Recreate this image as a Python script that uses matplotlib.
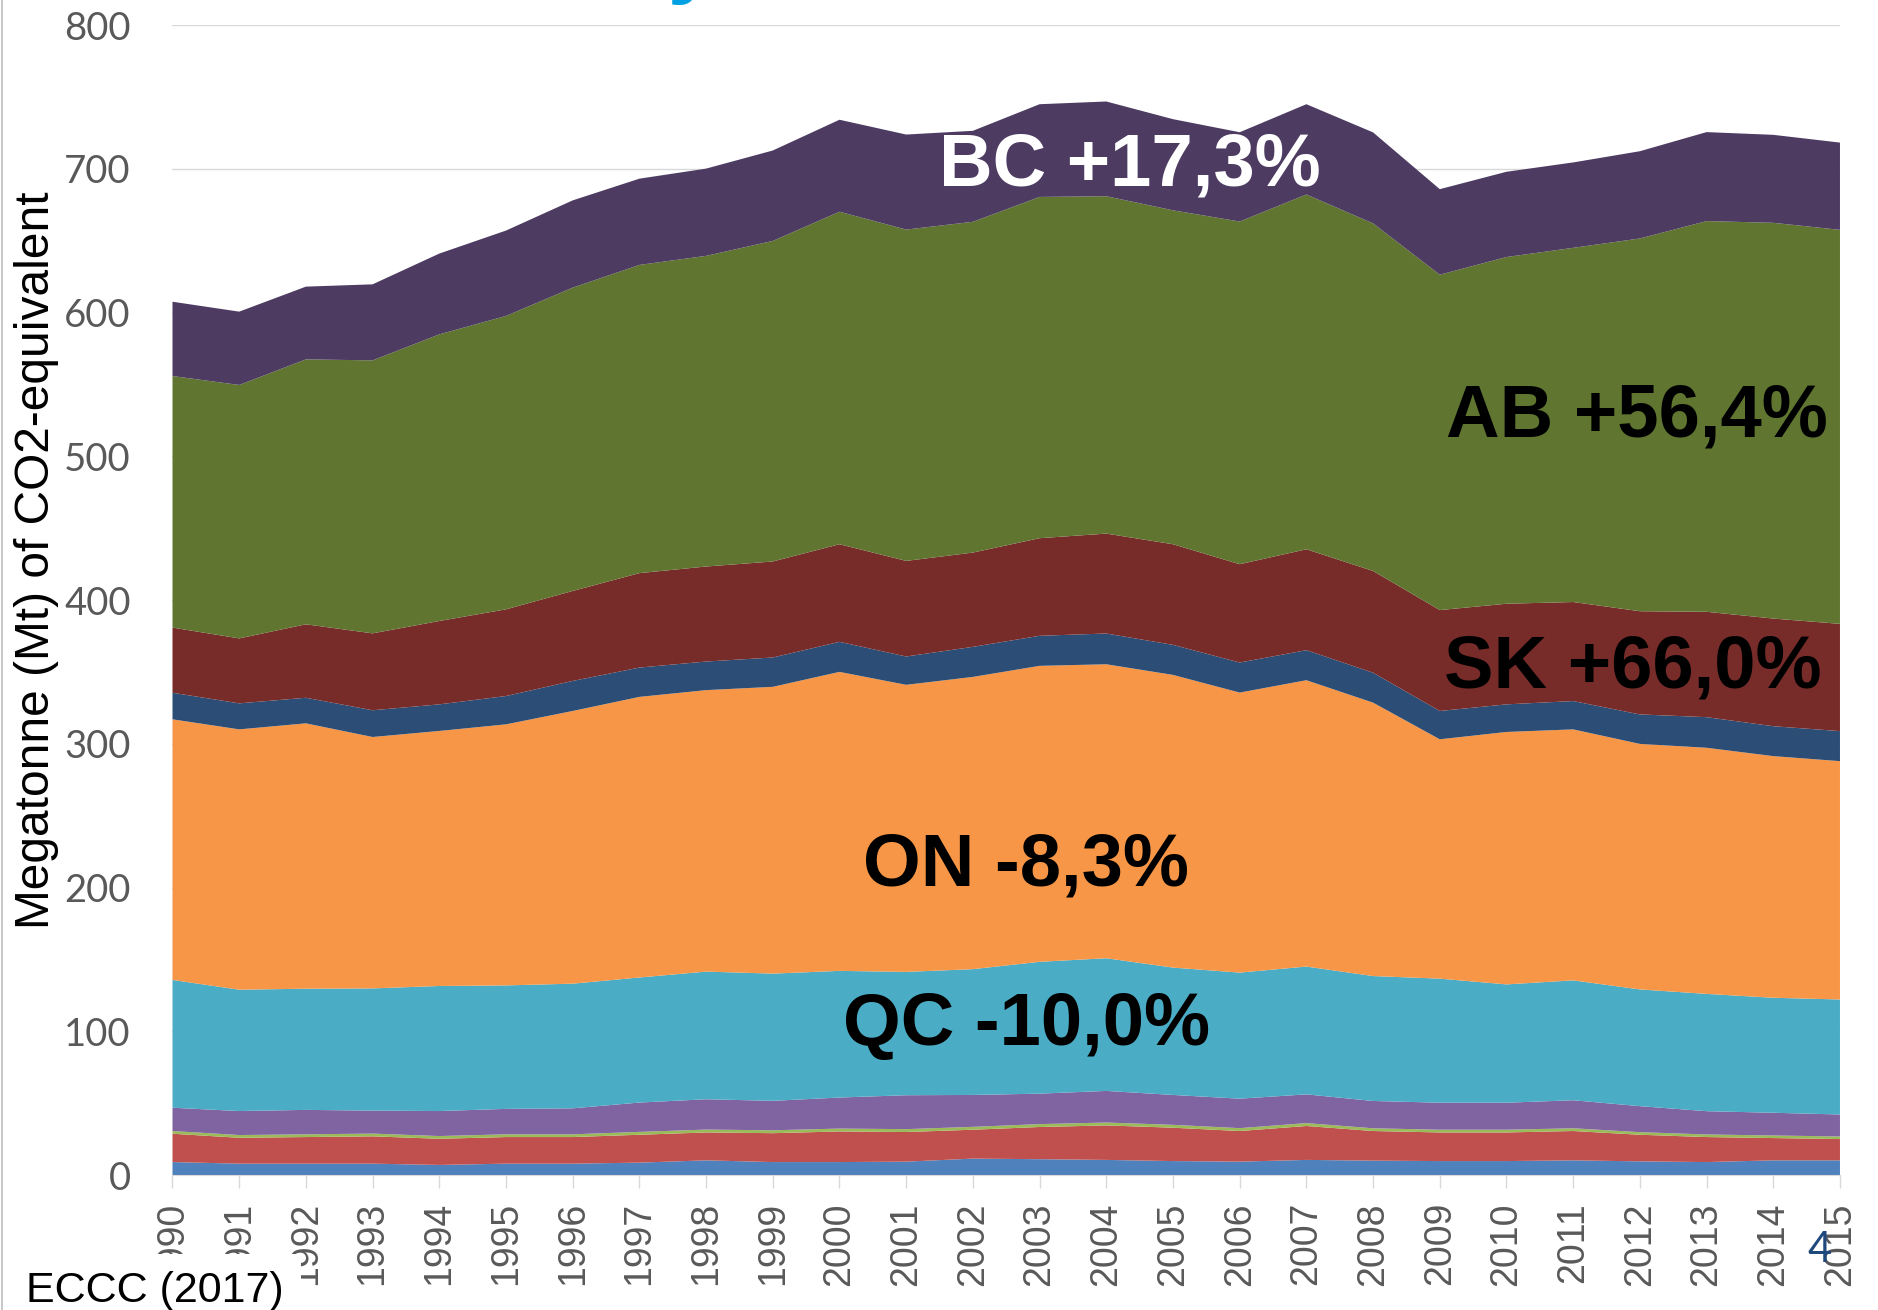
import matplotlib
matplotlib.use("Agg")
import matplotlib.pyplot as plt
from matplotlib.lines import Line2D

# emissions by province, Mt CO2-eq
years = list(range(1990, 2016))

nl = [9.0, 7.9, 7.9, 7.9, 7.0, 7.9, 7.9, 8.6, 10.2, 9.0, 9.0, 9.3, 11.4,
      11.0, 10.5, 9.7, 9.3, 10.5, 10.0, 9.7, 9.7, 10.2, 9.5, 9.0, 10.2, 10.2]
ns = [19.7, 18.0, 18.5, 19.0, 18.2, 18.5, 18.5, 19.4, 19.4, 20.1, 21.3, 20.6, 20.1,
      22.4, 24.0, 23.2, 21.3, 23.6, 20.6, 19.9, 19.9, 20.4, 18.5, 17.4, 15.5, 14.8]
pe = [1.9, 1.9, 1.9, 1.9, 1.9, 1.9, 1.9, 2.0, 2.0, 2.0, 2.0, 2.0, 2.0,
      2.0, 2.0, 2.0, 2.0, 2.0, 1.9, 1.9, 1.9, 1.9, 1.8, 1.8, 1.8, 1.8]
nb = [16.2, 16.7, 17.0, 16.0, 17.4, 17.7, 18.1, 20.4, 21.1, 20.5, 21.6, 23.6, 22.2,
      21.2, 22.0, 20.8, 20.5, 20.0, 19.0, 18.8, 18.8, 19.5, 18.1, 16.2, 15.8, 15.3]
qc = [88.9, 84.4, 84.3, 85.0, 87.0, 85.9, 86.7, 87.0, 88.8, 88.5, 88.1, 85.8, 87.5,
      91.7, 92.3, 88.6, 87.7, 88.9, 86.9, 86.3, 82.3, 83.4, 81.2, 81.6, 80.0, 80.0]
on = [181.3, 181.1, 184.6, 174.9, 177.4, 181.6, 189.7, 195.2, 195.8, 199.5, 208.0, 199.7, 203.3,
      205.9, 204.5, 203.6, 194.8, 199.2, 190.2, 166.5, 175.6, 174.6, 170.8, 171.2, 168.1, 165.8]
mb = [18.5, 18.1, 17.8, 18.6, 18.5, 19.7, 20.9, 20.4, 19.9, 20.4, 20.9, 19.7, 20.9,
      20.9, 21.4, 20.9, 20.9, 20.9, 20.8, 19.7, 19.2, 19.7, 20.5, 21.3, 20.8, 20.9]
sk = [45.3, 45.2, 51.1, 53.5, 58.0, 60.3, 62.6, 65.7, 66.1, 66.8, 67.9, 66.5, 65.6,
      67.9, 69.5, 70.0, 68.4, 70.2, 70.8, 70.2, 70.0, 68.9, 71.8, 73.3, 74.9, 74.6]
ab = [175.0, 176.3, 184.3, 189.9, 199.4, 204.1, 211.0, 214.4, 216.1, 223.0, 231.3, 230.5, 230.1,
      237.4, 234.7, 232.3, 238.4, 246.8, 241.8, 233.3, 241.2, 246.4, 259.3, 271.8, 275.3, 274.1]
bc = [51.7, 51.0, 50.6, 52.9, 56.2, 59.4, 60.7, 60.0, 60.7, 62.9, 64.0, 66.1, 63.3,
      64.5, 65.9, 63.4, 62.1, 62.8, 63.3, 59.5, 59.3, 59.4, 60.7, 61.9, 61.2, 60.7]

colors = ['#4F81BD', '#C0504D', '#9BBB59', '#8064A2', '#4BACC6',
          '#F79646', '#2C4D75', '#772C2A', '#5F7530', '#4D3B62']

# labels placed inside the areas: text, year, value, colour
labels = [("BC +17,3%", 2004.35, 702, 'white'),
          ("AB +56,4%", 2011.95, 527, 'black'),
          ("SK +66,0%", 2011.9, 353, 'black'),
          ("ON -8,3%", 2002.8, 215, 'black'),
          ("QC -10,0%", 2002.8, 104, 'black')]

fig = plt.figure(figsize=(18.78, 13.10), dpi=100)
ax = fig.add_axes([0.09185, 0.10305, 0.8879, 0.87786])

ax.stackplot(years, nl, ns, pe, nb, qc, on, mb, sk, ab, bc, colors=colors, linewidth=0, zorder=2)

ax.set_xlim(1990, 2015)
ax.set_ylim(0, 800)
ax.set_yticks(range(0, 801, 100))
ax.set_xticks(years)
ax.set_xticklabels([str(y) for y in years], rotation=90, family='Liberation Sans',
                   fontsize=27, color='#595959')
ax.set_yticklabels([str(v) for v in range(0, 801, 100)], family='Lato',
                   fontsize=27.5, color='#595959')
ax.tick_params(axis='y', length=0, pad=30)
ax.tick_params(axis='x', length=9.5, width=1, color='#D9D9D9', pad=10)
ax.grid(axis='y', color='#D9D9D9', linewidth=1, zorder=0)
ax.set_axisbelow(True)
for s in ['left', 'right', 'top']:
    ax.spines[s].set_visible(False)
ax.spines['bottom'].set_color('#D9D9D9')

for txt, x, y, c in labels:
    ax.text(x, y, txt, ha='center', va='center', fontsize=53.5, fontweight='bold',
            family='Liberation Sans', color=c, zorder=5)

fig.text(0.0197, 0.572, 'Megatonne (Mt) of CO2-equivalent', rotation=90, ha='center',
         va='center', fontsize=34.5, family='Liberation Sans', color='black')

fig.text(26 / 1878, 0.0061, 'ECCC (2017)', ha='left', va='baseline', fontsize=31,
         family='Liberation Sans', color='black',
         bbox=dict(boxstyle='square,pad=0.4', facecolor='white', edgecolor='none'))

fig.text(1820 / 1878, 1 - 1250 / 1310, '4', ha='center', va='center', fontsize=30,
         family='Lato', color='#1F497D')

# slide title, mostly cut off at the top
fig.text(136 / 1878, 1.0107, 'Emissions by Province, 1990-2015', ha='left', va='baseline',
         fontsize=65, fontweight='bold', family='Liberation Sans', color='#00A0E3')

fig.add_artist(Line2D([0.0008, 0.0008], [0, 1], transform=fig.transFigure,
                      color='#BFBFBF', linewidth=1.2))

fig.savefig('out.png', dpi=100)
